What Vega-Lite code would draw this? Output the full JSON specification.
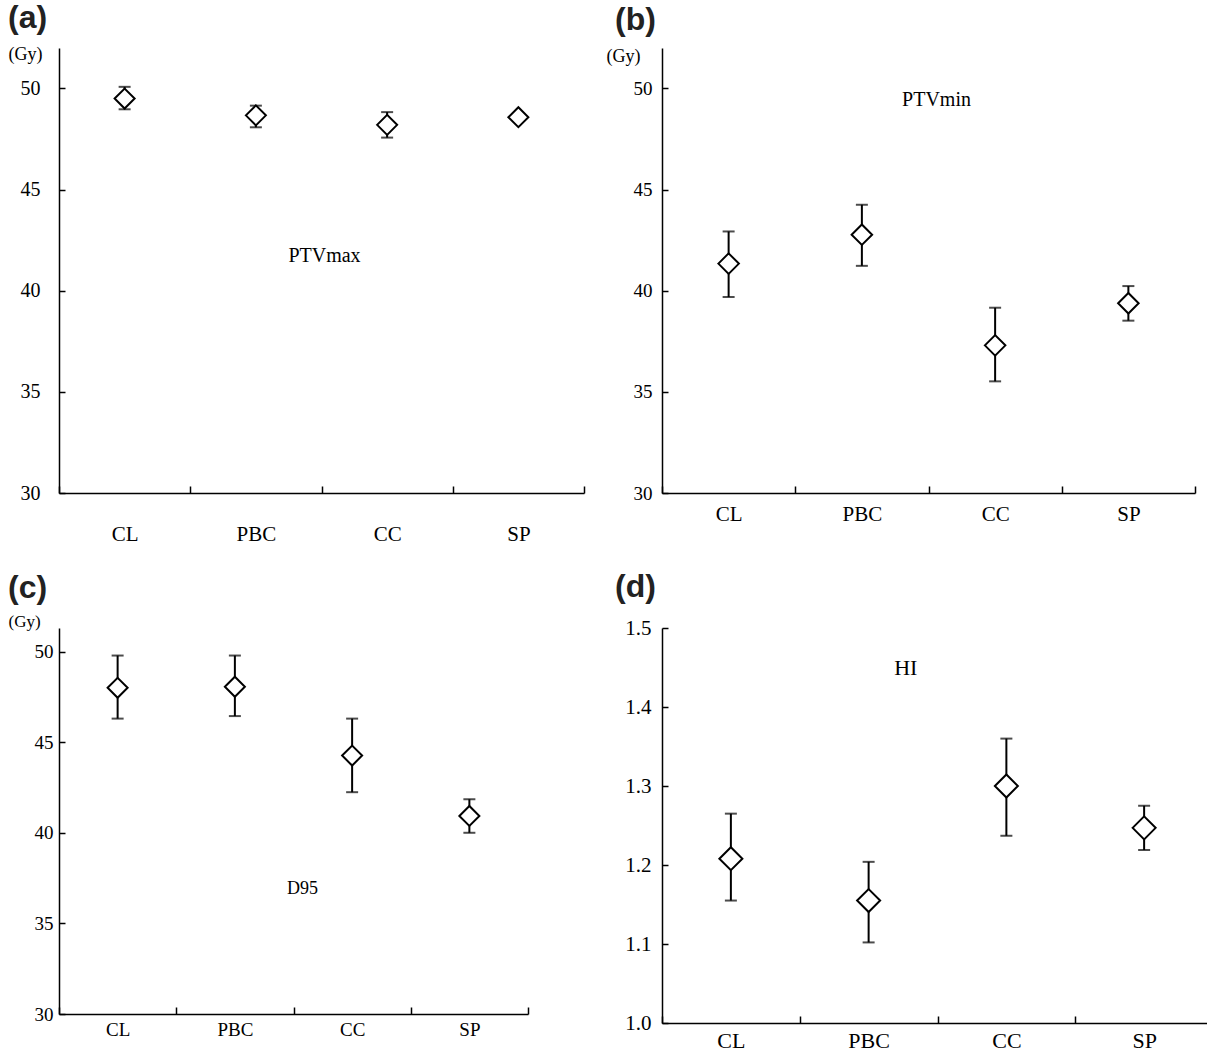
{
  "$schema": "https://vega.github.io/schema/vega-lite/v6.json",
  "background": "white",
  "padding": {"left": 8, "top": 2, "right": 0, "bottom": 0},
  "config": {"view": {"stroke": null}, "font": "Liberation Serif"},
  "datasets": {
    "stats": [
      {"panel": "a", "group": "CL", "mean": 49.5, "lo": 48.97, "hi": 50.08},
      {"panel": "a", "group": "PBC", "mean": 48.67, "lo": 48.08, "hi": 49.15},
      {"panel": "a", "group": "CC", "mean": 48.2, "lo": 47.57, "hi": 48.83},
      {"panel": "a", "group": "SP", "mean": 48.58, "lo": 48.43, "hi": 48.73},
      {"panel": "b", "group": "CL", "mean": 41.34, "lo": 39.69, "hi": 42.93},
      {"panel": "b", "group": "PBC", "mean": 42.77, "lo": 41.23, "hi": 44.25},
      {"panel": "b", "group": "CC", "mean": 37.3, "lo": 35.52, "hi": 39.16},
      {"panel": "b", "group": "SP", "mean": 39.38, "lo": 38.52, "hi": 40.23},
      {"panel": "c", "group": "CL", "mean": 48.0, "lo": 46.3, "hi": 49.78},
      {"panel": "c", "group": "PBC", "mean": 48.06, "lo": 46.44, "hi": 49.78},
      {"panel": "c", "group": "CC", "mean": 44.26, "lo": 42.24, "hi": 46.3},
      {"panel": "c", "group": "SP", "mean": 40.93, "lo": 40.0, "hi": 41.85},
      {"panel": "d", "group": "CL", "mean": 1.208, "lo": 1.155, "hi": 1.265},
      {"panel": "d", "group": "PBC", "mean": 1.155, "lo": 1.102, "hi": 1.204},
      {"panel": "d", "group": "CC", "mean": 1.3, "lo": 1.237, "hi": 1.36},
      {"panel": "d", "group": "SP", "mean": 1.247, "lo": 1.219, "hi": 1.275}
    ]
  },
  "bounds": "flush",
  "columns": 2,
  "spacing": {"row": 135, "column": 78},
  "concat": [
    {
      "width": 525, "height": 445,
      "title": {"text": "(a)", "anchor": "start", "frame": "group", "font": "Liberation Sans", "fontWeight": "bold", "fontSize": 32, "dx": -51, "offset": 10, "color": "#222"},
      "encoding": {
        "x": {"field": "group", "type": "nominal", "sort": ["CL", "PBC", "CC", "SP"], "scale": {"paddingInner": 0, "paddingOuter": 0},
          "axis": {"title": null, "tickBand": "extent", "tickSize": -7, "tickColor": "black", "tickWidth": 1.5, "domainColor": "black", "domainWidth": 1.5, "labelAngle": 0, "labelFont": "Liberation Serif", "labelFontSize": 21, "labelColor": "black", "labelPadding": 37}}
      },
      "layer": [
        {"data": {"name": "stats"}, "transform": [{"filter": "datum.panel == 'a'"}],
         "mark": {"type": "rule", "color": "black", "strokeWidth": 2},
         "encoding": {"y": {"field": "lo", "type": "quantitative", "title": "(Gy)", "scale": {"domain": [30, 52], "nice": false, "zero": false},
           "axis": {"values": [30, 35, 40, 45, 50], "grid": false, "tickSize": -6, "tickColor": "black", "tickWidth": 1.5, "domainColor": "black", "domainWidth": 1.5, "labelFont": "Liberation Serif", "labelFontSize": 20, "labelColor": "black", "labelPadding": 25,
             "titleAngle": 0, "titleAlign": "left", "titleBaseline": "middle", "titleX": -51, "titleY": 6, "titleFont": "Liberation Serif", "titleFontWeight": "normal", "titleFontSize": 18, "titleColor": "black"}},
           "y2": {"field": "hi"}}},
        {"data": {"name": "stats"}, "transform": [{"filter": "datum.panel == 'a'"}],
         "mark": {"type": "tick", "color": "black", "thickness": 2, "size": 12},
         "encoding": {"y": {"field": "lo", "type": "quantitative", "title": "(Gy)"}}},
        {"data": {"name": "stats"}, "transform": [{"filter": "datum.panel == 'a'"}],
         "mark": {"type": "tick", "color": "black", "thickness": 2, "size": 12},
         "encoding": {"y": {"field": "hi", "type": "quantitative", "title": "(Gy)"}}},
        {"data": {"name": "stats"}, "transform": [{"filter": "datum.panel == 'a'"}],
         "mark": {"type": "point", "shape": "diamond", "size": 400, "filled": true, "fill": "white", "stroke": "black", "strokeWidth": 2, "opacity": 1},
         "encoding": {"y": {"field": "mean", "type": "quantitative", "title": "(Gy)"}}},
        {"data": {"values": [{"label": "PTVmax"}]},
         "mark": {"type": "text", "font": "Liberation Serif", "fontSize": 20, "color": "black", "dx": 3},
         "encoding": {"x": {"datum": "PBC", "type": "nominal", "bandPosition": 1}, "y": {"datum": 41.7, "type": "quantitative"}, "text": {"field": "label"}}}
      ]
    },
    {
      "width": 533, "height": 445,
      "title": {"text": "(b)", "anchor": "start", "frame": "group", "font": "Liberation Sans", "fontWeight": "bold", "fontSize": 32, "dx": -47, "offset": 10, "color": "#222"},
      "encoding": {
        "x": {"field": "group", "type": "nominal", "sort": ["CL", "PBC", "CC", "SP"], "scale": {"paddingInner": 0, "paddingOuter": 0},
          "axis": {"title": null, "tickBand": "extent", "tickSize": -7, "tickColor": "black", "tickWidth": 1.5, "domainColor": "black", "domainWidth": 1.5, "labelAngle": 0, "labelFont": "Liberation Serif", "labelFontSize": 21, "labelColor": "black", "labelPadding": 17}}
      },
      "layer": [
        {"data": {"name": "stats"}, "transform": [{"filter": "datum.panel == 'b'"}],
         "mark": {"type": "rule", "color": "black", "strokeWidth": 2},
         "encoding": {"y": {"field": "lo", "type": "quantitative", "title": "(Gy)", "scale": {"domain": [30, 52], "nice": false, "zero": false},
           "axis": {"values": [30, 35, 40, 45, 50], "grid": false, "tickSize": -6, "tickColor": "black", "tickWidth": 1.5, "domainColor": "black", "domainWidth": 1.5, "labelFont": "Liberation Serif", "labelFontSize": 19, "labelColor": "black", "labelPadding": 16,
             "titleAngle": 0, "titleAlign": "left", "titleBaseline": "middle", "titleX": -56, "titleY": 8, "titleFont": "Liberation Serif", "titleFontWeight": "normal", "titleFontSize": 18, "titleColor": "black"}},
           "y2": {"field": "hi"}}},
        {"data": {"name": "stats"}, "transform": [{"filter": "datum.panel == 'b'"}],
         "mark": {"type": "tick", "color": "black", "thickness": 2, "size": 12},
         "encoding": {"y": {"field": "lo", "type": "quantitative", "title": "(Gy)"}}},
        {"data": {"name": "stats"}, "transform": [{"filter": "datum.panel == 'b'"}],
         "mark": {"type": "tick", "color": "black", "thickness": 2, "size": 12},
         "encoding": {"y": {"field": "hi", "type": "quantitative", "title": "(Gy)"}}},
        {"data": {"name": "stats"}, "transform": [{"filter": "datum.panel == 'b'"}],
         "mark": {"type": "point", "shape": "diamond", "size": 420, "filled": true, "fill": "white", "stroke": "black", "strokeWidth": 2, "opacity": 1},
         "encoding": {"y": {"field": "mean", "type": "quantitative", "title": "(Gy)"}}},
        {"data": {"values": [{"label": "PTVmin"}]},
         "mark": {"type": "text", "font": "Liberation Serif", "fontSize": 20, "color": "black", "dx": 8},
         "encoding": {"x": {"datum": "PBC", "type": "nominal", "bandPosition": 1}, "y": {"datum": 49.45, "type": "quantitative"}, "text": {"field": "label"}}}
      ]
    },
    {
      "width": 469, "height": 386,
      "title": {"text": "(c)", "anchor": "start", "frame": "group", "font": "Liberation Sans", "fontWeight": "bold", "fontSize": 32, "dx": -51, "offset": 7, "color": "#222"},
      "encoding": {
        "x": {"field": "group", "type": "nominal", "sort": ["CL", "PBC", "CC", "SP"], "scale": {"paddingInner": 0, "paddingOuter": 0},
          "axis": {"title": null, "tickBand": "extent", "tickSize": -7, "tickColor": "black", "tickWidth": 1.5, "domainColor": "black", "domainWidth": 1.5, "labelAngle": 0, "labelFont": "Liberation Serif", "labelFontSize": 19, "labelColor": "black", "labelPadding": 13}}
      },
      "layer": [
        {"data": {"name": "stats"}, "transform": [{"filter": "datum.panel == 'c'"}],
         "mark": {"type": "rule", "color": "black", "strokeWidth": 2},
         "encoding": {"y": {"field": "lo", "type": "quantitative", "title": "(Gy)", "scale": {"domain": [30, 51.3], "nice": false, "zero": false},
           "axis": {"values": [30, 35, 40, 45, 50], "grid": false, "tickSize": -6, "tickColor": "black", "tickWidth": 1.5, "domainColor": "black", "domainWidth": 1.5, "labelFont": "Liberation Serif", "labelFontSize": 19, "labelColor": "black", "labelPadding": 12,
             "titleAngle": 0, "titleAlign": "left", "titleBaseline": "middle", "titleX": -51, "titleY": -7, "titleFont": "Liberation Serif", "titleFontWeight": "normal", "titleFontSize": 17, "titleColor": "black"}},
           "y2": {"field": "hi"}}},
        {"data": {"name": "stats"}, "transform": [{"filter": "datum.panel == 'c'"}],
         "mark": {"type": "tick", "color": "black", "thickness": 2, "size": 12},
         "encoding": {"y": {"field": "lo", "type": "quantitative", "title": "(Gy)"}}},
        {"data": {"name": "stats"}, "transform": [{"filter": "datum.panel == 'c'"}],
         "mark": {"type": "tick", "color": "black", "thickness": 2, "size": 12},
         "encoding": {"y": {"field": "hi", "type": "quantitative", "title": "(Gy)"}}},
        {"data": {"name": "stats"}, "transform": [{"filter": "datum.panel == 'c'"}],
         "mark": {"type": "point", "shape": "diamond", "size": 400, "filled": true, "fill": "white", "stroke": "black", "strokeWidth": 2, "opacity": 1},
         "encoding": {"y": {"field": "mean", "type": "quantitative", "title": "(Gy)"}}},
        {"data": {"values": [{"label": "D95"}]},
         "mark": {"type": "text", "font": "Liberation Serif", "fontSize": 18, "color": "black", "dx": 9},
         "encoding": {"x": {"datum": "PBC", "type": "nominal", "bandPosition": 1}, "y": {"datum": 36.9, "type": "quantitative"}, "text": {"field": "label"}}}
      ]
    },
    {
      "width": 551, "height": 395,
      "title": {"text": "(d)", "anchor": "start", "frame": "group", "font": "Liberation Sans", "fontWeight": "bold", "fontSize": 32, "dx": -47, "offset": 13, "color": "#222"},
      "encoding": {
        "x": {"field": "group", "type": "nominal", "sort": ["CL", "PBC", "CC", "SP"], "scale": {"paddingInner": 0, "paddingOuter": 0},
          "axis": {"title": null, "tickBand": "extent", "tickSize": -7, "tickColor": "black", "tickWidth": 1.5, "domainColor": "black", "domainWidth": 1.5, "labelAngle": 0, "labelFont": "Liberation Serif", "labelFontSize": 22, "labelColor": "black", "labelPadding": 14}}
      },
      "layer": [
        {"data": {"name": "stats"}, "transform": [{"filter": "datum.panel == 'd'"}],
         "mark": {"type": "rule", "color": "black", "strokeWidth": 2},
         "encoding": {"y": {"field": "lo", "type": "quantitative", "title": null, "scale": {"domain": [1.0, 1.5], "nice": false, "zero": false},
           "axis": {"values": [1.0, 1.1, 1.2, 1.3, 1.4, 1.5], "format": ".1f", "grid": false, "tickSize": -6, "tickColor": "black", "tickWidth": 1.5, "domainColor": "black", "domainWidth": 1.5, "labelFont": "Liberation Serif", "labelFontSize": 21, "labelColor": "black", "labelPadding": 17}},
           "y2": {"field": "hi"}}},
        {"data": {"name": "stats"}, "transform": [{"filter": "datum.panel == 'd'"}],
         "mark": {"type": "tick", "color": "black", "thickness": 2, "size": 12},
         "encoding": {"y": {"field": "lo", "type": "quantitative", "title": null}}},
        {"data": {"name": "stats"}, "transform": [{"filter": "datum.panel == 'd'"}],
         "mark": {"type": "tick", "color": "black", "thickness": 2, "size": 12},
         "encoding": {"y": {"field": "hi", "type": "quantitative", "title": null}}},
        {"data": {"name": "stats"}, "transform": [{"filter": "datum.panel == 'd'"}],
         "mark": {"type": "point", "shape": "diamond", "size": 529, "filled": true, "fill": "white", "stroke": "black", "strokeWidth": 2, "opacity": 1},
         "encoding": {"y": {"field": "mean", "type": "quantitative", "title": null}}},
        {"data": {"values": [{"label": "HI"}]},
         "mark": {"type": "text", "font": "Liberation Serif", "fontSize": 22, "color": "black"},
         "encoding": {"x": {"datum": "PBC", "type": "nominal", "bandPosition": 0.77}, "y": {"datum": 1.449, "type": "quantitative"}, "text": {"field": "label"}}}
      ]
    }
  ]
}
